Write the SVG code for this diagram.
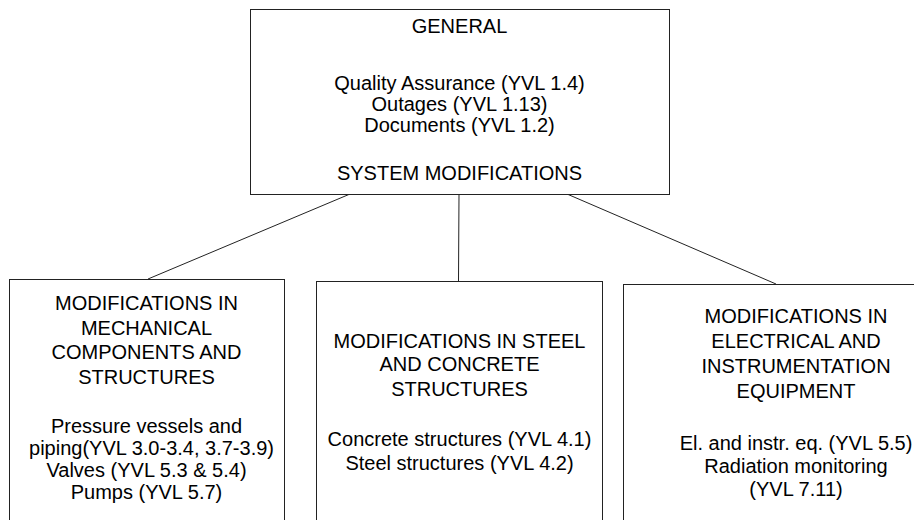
<svg xmlns="http://www.w3.org/2000/svg" width="914" height="520" viewBox="0 0 914 520">
<style>
.box{fill:#fff;stroke:#222;stroke-width:1}
.t{font-family:"Liberation Sans",Arial,sans-serif;font-size:20px;fill:#000;text-anchor:middle}
.c{stroke:#222;stroke-width:1;fill:none}
</style>
<rect width="914" height="520" fill="#fff"/>
<g id="connectors">
<line class="c" x1="350" y1="194" x2="148" y2="279"/>
<line class="c" x1="459" y1="194" x2="458.5" y2="281"/>
<line class="c" x1="567" y1="194" x2="776" y2="284"/>
</g>
<g id="general">
<rect class="box" x="250.5" y="9.5" width="419" height="185"/>
<text class="t" x="459.5" y="32.5">GENERAL</text>
<text class="t" x="459.5" y="90">Quality Assurance (YVL 1.4)</text>
<text class="t" x="459.5" y="111">Outages (YVL 1.13)</text>
<text class="t" x="459.5" y="132">Documents (YVL 1.2)</text>
<text class="t" x="459.5" y="180">SYSTEM MODIFICATIONS</text>
</g>
<g id="mechanical">
<rect class="box" x="9.5" y="279.5" width="275" height="260"/>
<text class="t" x="146.5" y="310">MODIFICATIONS IN</text>
<text class="t" x="146.5" y="335">MECHANICAL</text>
<text class="t" x="146.5" y="359">COMPONENTS AND</text>
<text class="t" x="146.5" y="384">STRUCTURES</text>
<text class="t" x="146.5" y="433">Pressure vessels and</text>
<text class="t" x="151.5" y="455">piping(YVL 3.0-3.4, 3.7-3.9)</text>
<text class="t" x="146.5" y="477">Valves (YVL 5.3 &amp; 5.4)</text>
<text class="t" x="146.5" y="499">Pumps (YVL 5.7)</text>
</g>
<g id="steel">
<rect class="box" x="316.5" y="281.5" width="286" height="260"/>
<text class="t" x="459.5" y="348">MODIFICATIONS IN STEEL</text>
<text class="t" x="459.5" y="371">AND CONCRETE</text>
<text class="t" x="459.5" y="396">STRUCTURES</text>
<text class="t" x="459.5" y="446">Concrete structures (YVL 4.1)</text>
<text class="t" x="459.5" y="470">Steel structures (YVL 4.2)</text>
</g>
<g id="electrical">
<rect class="box" x="623.5" y="284.5" width="350" height="260"/>
<text class="t" x="796" y="323">MODIFICATIONS IN</text>
<text class="t" x="796" y="348">ELECTRICAL AND</text>
<text class="t" x="796" y="373">INSTRUMENTATION</text>
<text class="t" x="796" y="398">EQUIPMENT</text>
<text class="t" x="796" y="450">El. and instr. eq. (YVL 5.5)</text>
<text class="t" x="796" y="473">Radiation monitoring</text>
<text class="t" x="796" y="496">(YVL 7.11)</text>
</g>
</svg>
